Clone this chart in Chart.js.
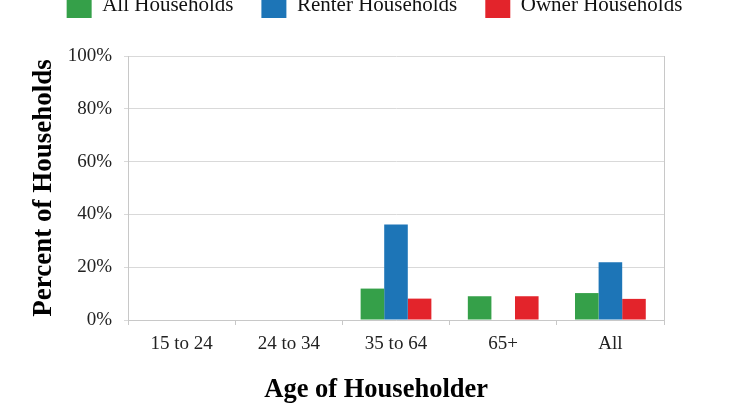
<!DOCTYPE html>
<html>
<head>
<meta charset="utf-8">
<script src="https://cdn.jsdelivr.net/npm/chart.js@4.4.1/dist/chart.umd.min.js"></script>
<style>
  html, body { margin: 0; padding: 0; background: #fff; overflow: hidden; }
  #wrap { position: absolute; left: 0; top: -35px; width: 739px; height: 440px; }
</style>
</head>
<body>
<div id="wrap"><canvas id="myChart"></canvas></div>
<script>
// Daten
const categories = ['15 to 24', '24 to 34', '35 to 64', '65+', 'All'];
const values_all = [0, 0, 11.9, 9.0, 10.2];
const values_renter = [0, 0, 36.2, 0, 21.9];
const values_owner = [0, 0, 8.1, 9.0, 8.0];
const yTicks = [0, 20, 40, 60, 80, 100];

const serif = "'Liberation Serif', 'Times New Roman', serif";
const gridColor = '#d9d9d9';
const axisColor = '#c8c8c8';

// Legende auf feste Höhe bringen, damit die Plotfläche oben bei y=56 beginnt
const legendHeight = {
    id: 'legendHeight',
    beforeInit(chart) {
        const fit = chart.legend.fit;
        chart.legend.fit = function() {
            fit.bind(chart.legend)();
            this.height = 91;
        };
    }
};

var ctx = document.getElementById('myChart').getContext('2d');
var myChart = new Chart(ctx, {
    type: 'bar',
    data: {
        labels: categories,
        datasets: [
            { label: 'All Households', data: values_all, backgroundColor: '#35a049' },
            { label: 'Renter Households', data: values_renter, backgroundColor: '#1d75b7' },
            { label: 'Owner Households', data: values_owner, backgroundColor: '#e3242b' },
        ]
    },
    plugins: [legendHeight],
    options: {
        responsive: true,
        maintainAspectRatio: false,
        animation: false,
        datasets: {
            bar: { categoryPercentage: 0.66, barPercentage: 1.0 }
        },
        layout: { padding: { left: 10, right: 0, top: 0, bottom: 0 } },
        plugins: {
            legend: {
                position: 'top',
                labels: {
                    font: { family: serif, size: 21 },
                    color: '#111',
                    boxWidth: 25,
                    boxHeight: 25,
                    padding: 28,
                },
            },
            tooltip: { enabled: false },
        },
        scales: {
            x: {
                afterFit: axis => { axis.height = 85; },
                grid: {
                    offset: true,
                    drawOnChartArea: false,
                    drawTicks: true,
                    tickLength: 5,
                    color: axisColor,
                },
                border: { color: axisColor },
                ticks: {
                    font: { family: serif, size: 19 },
                    color: '#222',
                    padding: 8,
                    maxRotation: 0,
                },
                title: {
                    display: true,
                    // Titel sitzt im Original etwas links der Plotmitte
                    text: 'Age of Householder\u00A0\u00A0\u00A0\u00A0\u00A0\u00A0',
                    font: { family: serif, size: 26.5, weight: 'bold', lineHeight: 1.1 },
                    color: '#000',
                    padding: { top: 0, bottom: 0 },
                },
            },
            y: {
                min: 0,
                max: 100,
                afterFit: axis => { axis.width = 118; },
                afterBuildTicks: function(axis) {
                    axis.ticks = yTicks.map(v => ({ value: v }));
                },
                grid: { color: gridColor, drawTicks: true, tickLength: 4 },
                border: { color: axisColor },
                ticks: {
                    font: { family: serif, size: 19 },
                    color: '#222',
                    padding: 12,
                    callback: v => v + '%',
                },
                title: {
                    display: true,
                    text: 'Percent of Households',
                    font: { family: serif, size: 27, weight: 'bold' },
                    color: '#000',
                    padding: { top: 18, bottom: 0 },
                },
            },
            y1: {
                position: 'right',
                min: 0,
                max: 100,
                afterFit: axis => { axis.width = 75; },
                grid: { display: false },
                border: { color: axisColor },
                ticks: { display: false },
            },
        }
    }
});
</script>
</body>
</html>
